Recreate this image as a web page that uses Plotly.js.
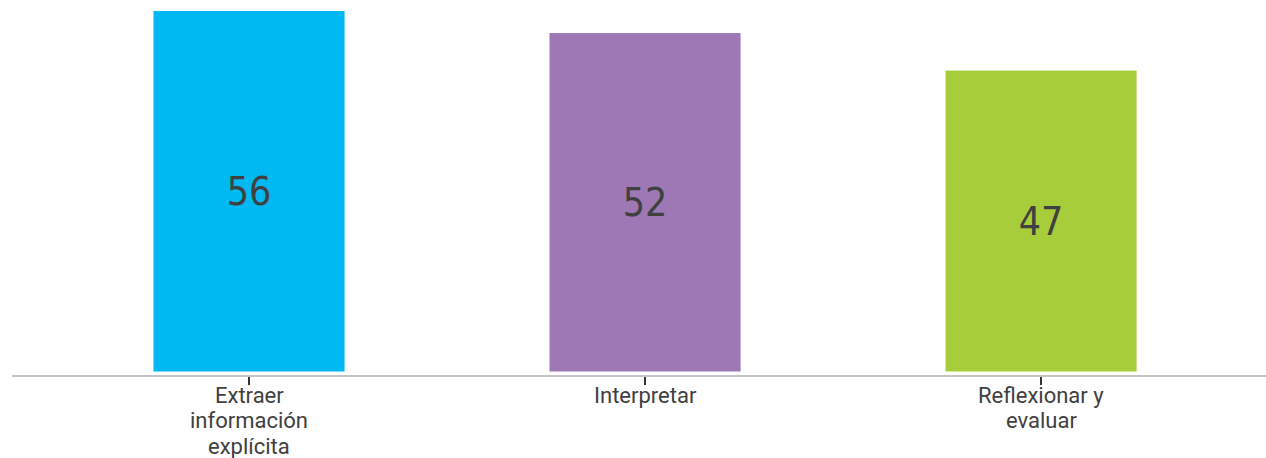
<!DOCTYPE html>
<html>
<head>
<meta charset="utf-8">
<script src="https://cdn.plot.ly/plotly-3.0.1.min.js"></script>
<style>html,body{margin:0;padding:0;background:#fff;}#chart{width:1266px;height:458px;}</style>
</head>
<body>
<div id="chart"></div>
<script>
const categories = ["Extraer<br>información<br>explícita", "Interpretar", "Reflexionar y<br>evaluar"];
const values = [55.8, 52.4, 46.6];
const barColors = ["#00B9F2", "#9E78B5", "#A8CD3B"];

const labelFont = {family: "Roboto, 'Noto Sans', sans-serif", size: 22, color: "#404040"};
const lineShifts = [-20, -45.8, -71.6];

const annotations = [];
categories.forEach((cat, i) => {
  cat.split("<br>").forEach((line, j) => {
    annotations.push({
      x: i, xref: "x", y: 0, yref: "paper",
      text: line, showarrow: false,
      xanchor: "center", yanchor: "middle",
      yshift: lineShifts[j], font: labelFont,
      borderpad: 0
    });
  });
});

const trace = {
  type: "bar",
  x: [0, 1, 2],
  y: values,
  width: 0.485,
  marker: {color: barColors, line: {color: "#ffffff", width: 1}},
  texttemplate: "%{y:.0f}",
  textposition: "inside",
  insidetextanchor: "middle",
  textangle: 0,
  constraintext: "none",
  insidetextfont: {family: "'Liberation Sans Narrow', 'DejaVu Sans Condensed', Roboto, sans-serif", size: 39, color: "#404040"},
  hoverinfo: "none"
};

const layout = {
  width: 1266, height: 458,
  margin: {l: 12, r: 0, t: 10, b: 83},
  paper_bgcolor: "#ffffff", plot_bgcolor: "#ffffff",
  showlegend: false,
  xaxis: {
    type: "linear",
    range: [-0.5985, 2.568],
    tickmode: "array",
    tickvals: [0, 1, 2],
    ticktext: ["", "", ""],
    ticks: "outside", ticklen: 8, tickwidth: 2, tickcolor: "#333333",
    showline: true, linecolor: "#C4C4C4", linewidth: 1.5,
    showgrid: false, zeroline: false, fixedrange: true
  },
  yaxis: {
    range: [-0.46, 55.88],
    visible: false, showgrid: false, zeroline: false, fixedrange: true
  },
  annotations: annotations
};

Plotly.newPlot("chart", [trace], layout, {displayModeBar: false, staticPlot: true});
</script>
</body>
</html>
